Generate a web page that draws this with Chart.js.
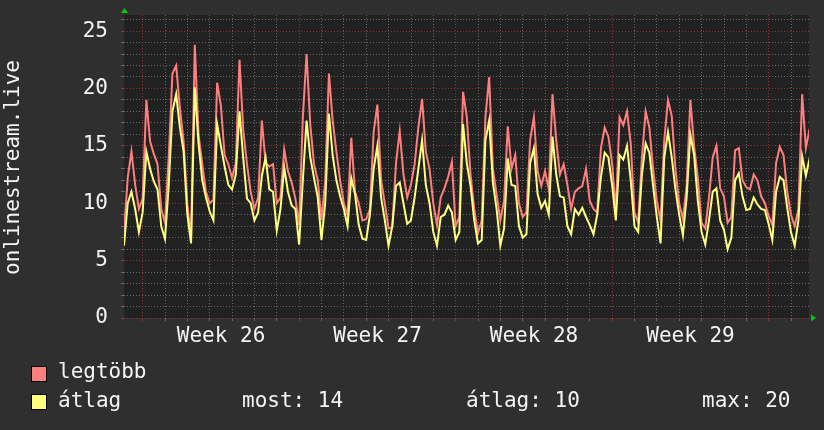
<!DOCTYPE html>
<html>
<head>
<meta charset="utf-8">
<script src="https://cdn.jsdelivr.net/npm/chart.js@4"></script>
<style>
  body { margin: 0; background: #2f2f2f; }
  #wrap { position: relative; width: 824px; height: 430px; font-family: "DejaVu Sans Mono", monospace; color: #f4f4f4; }
  #wrap canvas { position: absolute; left: 0; top: 0; }
  .sw { position: absolute; width: 14px; height: 14px; border: 1px solid #000; }
  .lbl { position: absolute; font-size: 21px; line-height: 21px; white-space: pre; }
</style>
</head>
<body>
<div id="wrap">
  <canvas id="chart" width="824" height="430"></canvas>
  <div class="sw" style="left:31px;top:366px;background:#ff7f7f"></div>
  <div class="lbl" style="left:58px;top:361px" id="l1"></div>
  <div class="sw" style="left:31px;top:394px;background:#ffff7f"></div>
  <div class="lbl" style="left:58px;top:390px" id="l2"></div>
  <div class="lbl" style="left:242px;top:390px" id="s1"></div>
  <div class="lbl" style="left:466px;top:390px" id="s2"></div>
  <div class="lbl" style="left:702px;top:390px" id="s3"></div>
</div>
<script>
// days relative to monday of week 26, one sample every 4 hours
const START_DAY = -0.84;
const STEP_DAY = 1 / 6;

const legtobb = [
  7.5, 12.2, 14.5, 11.6, 9.5, 10.4, 19.0, 15.4, 14.3, 13.4,
  9.5, 8.3, 14.0, 21.3, 22.0, 18.3, 15.4, 9.9, 7.0, 23.8,
  16.0, 13.4, 11.0, 10.0, 10.3, 20.5, 18.5, 14.2, 13.4, 12.2,
  13.5, 22.5, 16.4, 13.4, 11.0, 9.5, 10.5, 17.2, 13.5, 13.2,
  13.4, 10.0, 10.5, 14.7, 12.8, 11.8, 10.4, 8.1, 17.5, 23.0,
  16.8, 13.4, 12.0, 8.5, 12.0, 21.3, 17.2, 14.5, 12.0, 10.0,
  9.0, 15.7, 11.0, 10.0, 8.5, 8.6, 9.5, 16.2, 18.6, 12.0,
  10.0, 7.8, 7.9, 13.5, 16.3, 12.5, 10.5, 11.6, 13.4, 16.6,
  19.1, 14.5, 13.0, 10.0, 8.1, 10.5, 11.3, 12.3, 13.6, 8.0,
  8.8, 19.7, 17.5, 12.5, 9.5, 7.4, 8.5, 17.5, 21.0, 13.0,
  10.8, 8.5, 10.2, 16.7, 13.0, 14.2, 10.0, 8.8, 9.2, 15.5,
  17.5, 12.8, 11.5, 12.8, 11.2, 19.5, 15.5, 12.5, 13.4, 11.6,
  9.5, 11.0, 11.3, 11.5, 13.0, 10.2, 9.5, 9.2, 14.8, 16.6,
  15.8, 13.5, 9.3, 17.5, 16.8, 18.0, 15.2, 9.2, 8.3, 14.0,
  18.0, 16.6, 13.0, 10.2, 8.5, 15.5, 19.0, 17.6, 13.0, 10.0,
  8.6, 11.5, 19.0, 15.0, 12.2, 8.3, 7.8, 10.5, 14.0, 15.0,
  11.3, 10.6, 8.3, 8.8, 14.6, 14.8, 12.0, 11.4, 11.2, 12.5,
  12.0, 10.6, 10.0, 8.9, 8.1, 13.5, 14.9, 14.2, 11.0, 9.0,
  8.0, 9.5, 19.5, 14.8, 16.5
];

const atlag = [
  6.3, 10.0, 11.0, 9.5, 7.5, 9.2, 14.5, 13.0, 11.9, 11.2,
  8.0, 6.9, 11.5, 18.0, 19.5, 16.6, 14.5, 9.0, 6.5, 20.1,
  15.2, 12.0, 10.5, 9.3, 8.5, 16.9, 15.0, 13.2, 11.6, 11.2,
  12.5, 18.0, 13.9, 10.4, 10.0, 8.5, 9.2, 12.4, 14.0, 11.2,
  11.0, 7.6, 9.5, 13.1, 11.0, 9.8, 9.5, 6.4, 12.0, 17.2,
  14.0, 12.2, 10.5, 6.8, 10.0, 17.8, 14.2, 12.0, 10.6, 9.5,
  8.0, 12.2, 10.8, 8.1, 6.9, 6.8, 9.0, 13.0, 15.0, 10.5,
  8.5, 6.3, 8.0, 11.5, 11.8, 10.0, 8.2, 8.5, 10.5, 13.0,
  15.5, 11.6, 10.0, 7.5, 6.3, 8.8, 9.0, 9.8, 9.2, 6.8,
  7.5, 16.9, 13.5, 11.5, 8.5, 6.5, 6.8, 15.5, 17.2, 11.8,
  9.5, 6.3, 7.8, 13.9, 11.6, 11.5, 8.0, 7.0, 7.3, 13.5,
  14.8, 10.8, 9.6, 10.2, 9.0, 15.8, 12.5, 10.6, 10.5, 8.0,
  7.3, 9.5, 9.0, 9.6, 8.8, 8.1, 7.3, 9.0, 12.3, 14.4,
  14.0, 11.6, 8.5, 14.2, 13.8, 15.0, 12.0, 8.0, 7.5, 12.5,
  15.2, 14.4, 11.5, 8.8, 6.5, 14.0, 16.2, 14.0, 11.2, 9.0,
  7.2, 10.5, 16.0, 14.2, 10.2, 7.5, 6.4, 8.5, 11.0, 11.3,
  8.5, 7.7, 6.0, 7.0, 12.0, 12.6, 10.6, 9.4, 9.5, 10.5,
  9.9, 9.5, 9.4, 8.2, 6.8, 11.0, 12.3, 12.0, 9.6, 7.5,
  6.3, 8.5, 14.1, 12.4, 13.9
];

const weekNumbers = [26, 27, 28, 29];
const yLabelTicks = [0, 5, 10, 15, 20, 25];
const seriesNames = ["legtöbb", "átlag"];
const statNames = ["most", "átlag", "max"];
const statValues = [14, 10, 20];
const axisTitle = "onlinestream.live";

const RED = "#ff7f7f";
const YELLOW = "#ffff7f";
const GRID_MINOR = "rgba(110,110,110,0.95)";
const GRID_MAJOR = "rgba(150,55,55,0.95)";

document.getElementById("l1").textContent = seriesNames[0];
document.getElementById("l2").textContent = seriesNames[1];
["s1", "s2", "s3"].forEach((id, i) => {
  document.getElementById(id).textContent = `${statNames[i]}: ${statValues[i]}`;
});

const toPoints = (arr) => arr.map((v, i) => ({ x: START_DAY + i * STEP_DAY, y: v }));

const weekCenters = weekNumbers.map((w, i) => i * 7 + 3.5);

const decor = {
  id: "decor",
  beforeDraw(chart) {
    const { ctx, chartArea: a } = chart;
    ctx.save();
    ctx.fillStyle = "#212121";
    ctx.fillRect(a.left, a.top, a.right - a.left, a.bottom - a.top);
    ctx.restore();
  },
  afterDraw(chart) {
    const { ctx, chartArea: a } = chart;
    ctx.save();
    // arrows
    ctx.fillStyle = "#00cc00";
    ctx.beginPath();
    ctx.moveTo(a.left + 0.5, a.top - 7);
    ctx.lineTo(a.left - 3, a.top - 2);
    ctx.lineTo(a.left + 4, a.top - 2);
    ctx.fill();
    ctx.beginPath();
    ctx.moveTo(a.right + 7, a.bottom);
    ctx.lineTo(a.right + 2, a.bottom - 3.5);
    ctx.lineTo(a.right + 2, a.bottom + 3.5);
    ctx.fill();
    // y title
    ctx.fillStyle = "#f4f4f4";
    ctx.font = '21px "DejaVu Sans Mono"';
    ctx.textAlign = "center";
    ctx.textBaseline = "alphabetic";
    ctx.translate(19, (a.top + a.bottom) / 2 + 1);
    ctx.rotate(-Math.PI / 2);
    ctx.fillText(axisTitle, 0, 0);
    ctx.restore();
  }
};

new Chart(document.getElementById("chart"), {
  type: "line",
  data: {
    datasets: [
      {
        label: seriesNames[1],
        data: toPoints(atlag),
        borderColor: YELLOW,
        borderWidth: 2,
        pointRadius: 0,
        tension: 0,
        order: 0,
      },
      {
        label: seriesNames[0],
        data: toPoints(legtobb),
        borderColor: RED,
        borderWidth: 2,
        pointRadius: 0,
        tension: 0,
        order: 1,
      },
    ],
  },
  options: {
    responsive: false,
    animation: false,
    events: [],
    layout: { padding: { left: 0, top: 15, right: 15, bottom: 72 } },
    plugins: {
      legend: { display: false },
      tooltip: { enabled: false },
    },
    scales: {
      x: {
        type: "linear",
        min: START_DAY,
        max: 29.8,
        afterBuildTicks: (scale) => {
          const t = [];
          for (let d = 0; d <= 29; d++) t.push({ value: d });
          weekCenters.forEach((c) => t.push({ value: c }));
          scale.ticks = t;
        },
        afterFit: (scale) => {
          scale.height = 40;
          scale.paddingLeft = 0;
          scale.paddingRight = 0;
        },
        ticks: {
          autoSkip: false,
          maxRotation: 0,
          padding: 3,
          color: "#f4f4f4",
          font: { family: "DejaVu Sans Mono", size: 21 },
          callback: (v) => {
            const i = weekCenters.indexOf(v);
            return i >= 0 ? `Week ${weekNumbers[i]}` : "";
          },
        },
        grid: {
          tickLength: 3,
          lineWidth: 1,
          color: (ctx) => {
            const v = ctx.tick ? ctx.tick.value : 0;
            if (!Number.isInteger(v)) return "rgba(0,0,0,0)";
            return v % 7 === 0 ? GRID_MAJOR : GRID_MINOR;
          },
        },
        border: { display: false, dash: [1, 2] },
      },
      y: {
        min: 0,
        max: 26.4,
        afterBuildTicks: (scale) => {
          const t = [];
          for (let v = 0; v <= 26; v++) t.push({ value: v });
          scale.ticks = t;
        },
        afterFit: (scale) => {
          scale.width = 124;
          scale.paddingTop = 0;
          scale.paddingBottom = 0;
        },
        ticks: {
          autoSkip: false,
          padding: 13,
          color: "#f4f4f4",
          font: { family: "DejaVu Sans Mono", size: 21 },
          callback: (v) => (yLabelTicks.includes(v) ? String(v) : ""),
        },
        grid: {
          tickLength: 3,
          lineWidth: 1,
          color: (ctx) => {
            const v = ctx.tick ? ctx.tick.value : 0;
            return v % 5 === 0 ? GRID_MAJOR : GRID_MINOR;
          },
        },
        border: { display: false, dash: [1, 2] },
      },
    },
  },
  plugins: [decor],
});
</script>
</body>
</html>
